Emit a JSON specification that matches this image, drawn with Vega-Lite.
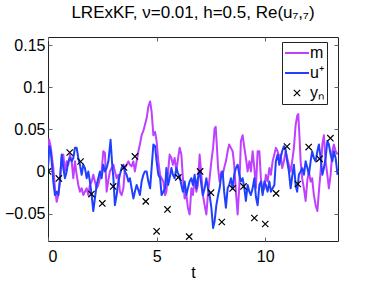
{
  "$schema": "https://vega.github.io/schema/vega-lite/v6.json",
  "width": 290,
  "height": 204,
  "autosize": "none",
  "padding": {"left": 48, "top": 37, "right": 36, "bottom": 40},
  "background": "white",
  "title": {"text": "LRExKF, ν=0.01, h=0.5, Re(u₇,₇)", "font": "Liberation Sans", "fontSize": 17, "fontWeight": "normal", "color": "#000", "anchor": "middle", "offset": 15},
  "config": {
    "view": {"stroke": "#222", "strokeWidth": 1},
    "axis": {"labelFont": "Liberation Sans", "labelFontSize": 16, "labelColor": "#000", "titleFont": "Liberation Sans", "titleFontSize": 16, "titleFontWeight": "normal", "titleColor": "#000", "domain": false, "grid": false, "tickColor": "#666", "tickWidth": 1, "tickSize": -4},
    "legend": {"orient": "none", "legendX": 234, "legendY": 5, "title": null, "strokeColor": "#222", "fillColor": "white", "padding": 3, "symbolSize": 400, "rowPadding": 4, "symbolOffset": 4, "labelOffset": 5, "labelFont": "Liberation Sans", "labelFontSize": 16, "labelColor": "#000", "symbolStrokeWidth": 2, "cornerRadius": 0}
  },
  "data": {"values": [
    {"t":0,"v":0.005,"s":"m"},{"t":0.05,"v":0.038,"s":"m"},{"t":0.12,"v":0.03,"s":"m"},{"t":0.245,"v":0.004,"s":"m"},{"t":0.32,"v":-0.02,"s":"m"},{"t":0.4,"v":-0.036,"s":"m"},{"t":0.475,"v":-0.028,"s":"m"},{"t":0.55,"v":-0.008,"s":"m"},{"t":0.63,"v":0.016,"s":"m"},{"t":0.705,"v":0.02,"s":"m"},{"t":0.78,"v":0.0,"s":"m"},{"t":0.86,"v":0.012,"s":"m"},{"t":0.935,"v":0.008,"s":"m"},{"t":1.01,"v":0.02,"s":"m"},{"t":1.09,"v":0.012,"s":"m"},{"t":1.165,"v":-0.008,"s":"m"},{"t":1.24,"v":0.012,"s":"m"},{"t":1.32,"v":-0.004,"s":"m"},{"t":1.395,"v":-0.016,"s":"m"},{"t":1.47,"v":-0.024,"s":"m"},{"t":1.55,"v":-0.02,"s":"m"},{"t":1.625,"v":-0.028,"s":"m"},{"t":1.7,"v":-0.024,"s":"m"},{"t":1.78,"v":-0.02,"s":"m"},{"t":1.855,"v":-0.028,"s":"m"},{"t":1.93,"v":-0.016,"s":"m"},{"t":2.01,"v":-0.012,"s":"m"},{"t":2.085,"v":-0.004,"s":"m"},{"t":2.16,"v":-0.012,"s":"m"},{"t":2.24,"v":-0.02,"s":"m"},{"t":2.315,"v":-0.016,"s":"m"},{"t":2.39,"v":-0.008,"s":"m"},{"t":2.47,"v":0.0,"s":"m"},{"t":2.545,"v":0.024,"s":"m"},{"t":2.62,"v":0.022,"s":"m"},{"t":2.7,"v":-0.024,"s":"m"},{"t":2.78,"v":-0.01,"s":"m"},{"t":2.85,"v":0.0,"s":"m"},{"t":2.93,"v":0.004,"s":"m"},{"t":3.01,"v":0.008,"s":"m"},{"t":3.08,"v":0.0,"s":"m"},{"t":3.16,"v":-0.008,"s":"m"},{"t":3.24,"v":-0.004,"s":"m"},{"t":3.31,"v":-0.024,"s":"m"},{"t":3.39,"v":-0.028,"s":"m"},{"t":3.47,"v":-0.02,"s":"m"},{"t":3.54,"v":0.004,"s":"m"},{"t":3.62,"v":0.008,"s":"m"},{"t":3.7,"v":0.012,"s":"m"},{"t":3.77,"v":0.008,"s":"m"},{"t":3.85,"v":0.006,"s":"m"},{"t":3.93,"v":0.012,"s":"m"},{"t":4.0,"v":0.0,"s":"m"},{"t":4.08,"v":0.012,"s":"m"},{"t":4.16,"v":0.024,"s":"m"},{"t":4.23,"v":0.032,"s":"m"},{"t":4.31,"v":0.043,"s":"m"},{"t":4.39,"v":0.048,"s":"m"},{"t":4.46,"v":0.055,"s":"m"},{"t":4.54,"v":0.063,"s":"m"},{"t":4.62,"v":0.077,"s":"m"},{"t":4.7,"v":0.083,"s":"m"},{"t":4.77,"v":0.071,"s":"m"},{"t":4.85,"v":0.043,"s":"m"},{"t":4.93,"v":0.047,"s":"m"},{"t":5.0,"v":0.036,"s":"m"},{"t":5.08,"v":0.012,"s":"m"},{"t":5.16,"v":-0.004,"s":"m"},{"t":5.23,"v":-0.008,"s":"m"},{"t":5.31,"v":-0.012,"s":"m"},{"t":5.39,"v":-0.028,"s":"m"},{"t":5.45,"v":-0.024,"s":"m"},{"t":5.53,"v":0.0,"s":"m"},{"t":5.6,"v":0.02,"s":"m"},{"t":5.68,"v":0.016,"s":"m"},{"t":5.75,"v":0.008,"s":"m"},{"t":5.83,"v":0.016,"s":"m"},{"t":5.91,"v":0.0,"s":"m"},{"t":5.98,"v":0.014,"s":"m"},{"t":6.06,"v":0.028,"s":"m"},{"t":6.14,"v":0.02,"s":"m"},{"t":6.21,"v":-0.008,"s":"m"},{"t":6.29,"v":-0.032,"s":"m"},{"t":6.37,"v":-0.028,"s":"m"},{"t":6.44,"v":-0.043,"s":"m"},{"t":6.52,"v":-0.051,"s":"m"},{"t":6.6,"v":-0.02,"s":"m"},{"t":6.67,"v":-0.028,"s":"m"},{"t":6.75,"v":-0.008,"s":"m"},{"t":6.83,"v":-0.024,"s":"m"},{"t":6.9,"v":-0.016,"s":"m"},{"t":6.98,"v":0.02,"s":"m"},{"t":7.06,"v":-0.004,"s":"m"},{"t":7.13,"v":-0.028,"s":"m"},{"t":7.21,"v":-0.04,"s":"m"},{"t":7.29,"v":-0.051,"s":"m"},{"t":7.36,"v":-0.028,"s":"m"},{"t":7.44,"v":-0.008,"s":"m"},{"t":7.52,"v":0.012,"s":"m"},{"t":7.6,"v":0.028,"s":"m"},{"t":7.67,"v":0.051,"s":"m"},{"t":7.72,"v":0.053,"s":"m"},{"t":7.77,"v":0.032,"s":"m"},{"t":7.83,"v":0.004,"s":"m"},{"t":7.9,"v":-0.012,"s":"m"},{"t":7.98,"v":0.0,"s":"m"},{"t":8.04,"v":-0.004,"s":"m"},{"t":8.11,"v":0.004,"s":"m"},{"t":8.19,"v":0.012,"s":"m"},{"t":8.27,"v":0.024,"s":"m"},{"t":8.34,"v":0.032,"s":"m"},{"t":8.42,"v":0.028,"s":"m"},{"t":8.5,"v":0.024,"s":"m"},{"t":8.57,"v":0.008,"s":"m"},{"t":8.65,"v":-0.024,"s":"m"},{"t":8.73,"v":-0.051,"s":"m"},{"t":8.81,"v":-0.016,"s":"m"},{"t":8.88,"v":0.036,"s":"m"},{"t":8.96,"v":0.043,"s":"m"},{"t":9.04,"v":0.028,"s":"m"},{"t":9.11,"v":0.016,"s":"m"},{"t":9.19,"v":0.0,"s":"m"},{"t":9.27,"v":0.012,"s":"m"},{"t":9.34,"v":0.0,"s":"m"},{"t":9.42,"v":0.024,"s":"m"},{"t":9.5,"v":0.004,"s":"m"},{"t":9.57,"v":-0.02,"s":"m"},{"t":9.65,"v":0.024,"s":"m"},{"t":9.73,"v":0.024,"s":"m"},{"t":9.8,"v":-0.008,"s":"m"},{"t":9.88,"v":-0.024,"s":"m"},{"t":9.96,"v":-0.02,"s":"m"},{"t":10.03,"v":-0.004,"s":"m"},{"t":10.11,"v":-0.012,"s":"m"},{"t":10.19,"v":0.004,"s":"m"},{"t":10.26,"v":-0.004,"s":"m"},{"t":10.34,"v":0.012,"s":"m"},{"t":10.42,"v":0.02,"s":"m"},{"t":10.49,"v":0.028,"s":"m"},{"t":10.57,"v":0.024,"s":"m"},{"t":10.65,"v":0.016,"s":"m"},{"t":10.71,"v":0.02,"s":"m"},{"t":10.78,"v":0.004,"s":"m"},{"t":10.86,"v":0.012,"s":"m"},{"t":10.94,"v":0.024,"s":"m"},{"t":11.01,"v":0.016,"s":"m"},{"t":11.09,"v":0.008,"s":"m"},{"t":11.17,"v":0.0,"s":"m"},{"t":11.24,"v":0.012,"s":"m"},{"t":11.32,"v":0.028,"s":"m"},{"t":11.4,"v":0.055,"s":"m"},{"t":11.47,"v":0.066,"s":"m"},{"t":11.52,"v":0.068,"s":"m"},{"t":11.58,"v":0.04,"s":"m"},{"t":11.63,"v":0.012,"s":"m"},{"t":11.7,"v":-0.008,"s":"m"},{"t":11.78,"v":-0.02,"s":"m"},{"t":11.86,"v":-0.035,"s":"m"},{"t":11.94,"v":-0.01,"s":"m"},{"t":12.01,"v":0.0,"s":"m"},{"t":12.09,"v":-0.012,"s":"m"},{"t":12.16,"v":-0.008,"s":"m"},{"t":12.24,"v":-0.028,"s":"m"},{"t":12.32,"v":-0.04,"s":"m"},{"t":12.4,"v":-0.047,"s":"m"},{"t":12.47,"v":-0.024,"s":"m"},{"t":12.55,"v":0.0,"s":"m"},{"t":12.63,"v":0.032,"s":"m"},{"t":12.7,"v":0.043,"s":"m"},{"t":12.78,"v":0.012,"s":"m"},{"t":12.86,"v":-0.004,"s":"m"},{"t":12.93,"v":-0.02,"s":"m"},{"t":13.01,"v":-0.004,"s":"m"},{"t":13.09,"v":0.024,"s":"m"},{"t":13.16,"v":0.032,"s":"m"},{"t":13.24,"v":0.024,"s":"m"},{"t":13.33,"v":0.02,"s":"m"},
    {"t":0,"v":0.005,"s":"u⁺"},{"t":0.06,"v":0.03,"s":"u⁺"},{"t":0.12,"v":0.025,"s":"u⁺"},{"t":0.17,"v":0.012,"s":"u⁺"},{"t":0.245,"v":-0.012,"s":"u⁺"},{"t":0.32,"v":-0.028,"s":"u⁺"},{"t":0.4,"v":-0.024,"s":"u⁺"},{"t":0.475,"v":-0.028,"s":"u⁺"},{"t":0.55,"v":-0.012,"s":"u⁺"},{"t":0.63,"v":0.02,"s":"u⁺"},{"t":0.705,"v":0.004,"s":"u⁺"},{"t":0.78,"v":-0.008,"s":"u⁺"},{"t":0.86,"v":0.0,"s":"u⁺"},{"t":0.935,"v":0.012,"s":"u⁺"},{"t":1.01,"v":0.016,"s":"u⁺"},{"t":1.09,"v":0.012,"s":"u⁺"},{"t":1.165,"v":0.016,"s":"u⁺"},{"t":1.24,"v":0.028,"s":"u⁺"},{"t":1.32,"v":0.028,"s":"u⁺"},{"t":1.395,"v":0.016,"s":"u⁺"},{"t":1.47,"v":0.008,"s":"u⁺"},{"t":1.55,"v":-0.004,"s":"u⁺"},{"t":1.625,"v":0.008,"s":"u⁺"},{"t":1.7,"v":0.004,"s":"u⁺"},{"t":1.78,"v":-0.008,"s":"u⁺"},{"t":1.855,"v":0.0,"s":"u⁺"},{"t":1.93,"v":-0.012,"s":"u⁺"},{"t":2.01,"v":-0.028,"s":"u⁺"},{"t":2.085,"v":-0.047,"s":"u⁺"},{"t":2.16,"v":-0.032,"s":"u⁺"},{"t":2.24,"v":-0.016,"s":"u⁺"},{"t":2.315,"v":-0.008,"s":"u⁺"},{"t":2.39,"v":0.0,"s":"u⁺"},{"t":2.47,"v":-0.008,"s":"u⁺"},{"t":2.545,"v":0.008,"s":"u⁺"},{"t":2.62,"v":0.0,"s":"u⁺"},{"t":2.7,"v":0.004,"s":"u⁺"},{"t":2.78,"v":0.012,"s":"u⁺"},{"t":2.88,"v":0.0375,"s":"u⁺"},{"t":2.95,"v":0.01,"s":"u⁺"},{"t":3.01,"v":-0.008,"s":"u⁺"},{"t":3.08,"v":-0.04,"s":"u⁺"},{"t":3.16,"v":-0.028,"s":"u⁺"},{"t":3.24,"v":-0.012,"s":"u⁺"},{"t":3.31,"v":-0.004,"s":"u⁺"},{"t":3.39,"v":0.004,"s":"u⁺"},{"t":3.47,"v":0.008,"s":"u⁺"},{"t":3.54,"v":0.0,"s":"u⁺"},{"t":3.62,"v":-0.004,"s":"u⁺"},{"t":3.7,"v":-0.012,"s":"u⁺"},{"t":3.77,"v":-0.008,"s":"u⁺"},{"t":3.85,"v":-0.02,"s":"u⁺"},{"t":3.93,"v":-0.032,"s":"u⁺"},{"t":4.0,"v":-0.024,"s":"u⁺"},{"t":4.08,"v":-0.016,"s":"u⁺"},{"t":4.16,"v":-0.022,"s":"u⁺"},{"t":4.23,"v":-0.028,"s":"u⁺"},{"t":4.31,"v":-0.012,"s":"u⁺"},{"t":4.39,"v":-0.004,"s":"u⁺"},{"t":4.46,"v":0.0,"s":"u⁺"},{"t":4.54,"v":0.0,"s":"u⁺"},{"t":4.62,"v":-0.012,"s":"u⁺"},{"t":4.7,"v":-0.02,"s":"u⁺"},{"t":4.77,"v":0.004,"s":"u⁺"},{"t":4.85,"v":0.032,"s":"u⁺"},{"t":4.93,"v":0.03,"s":"u⁺"},{"t":5.0,"v":0.012,"s":"u⁺"},{"t":5.08,"v":-0.004,"s":"u⁺"},{"t":5.16,"v":-0.008,"s":"u⁺"},{"t":5.23,"v":-0.028,"s":"u⁺"},{"t":5.31,"v":-0.024,"s":"u⁺"},{"t":5.39,"v":-0.02,"s":"u⁺"},{"t":5.45,"v":0.004,"s":"u⁺"},{"t":5.53,"v":-0.016,"s":"u⁺"},{"t":5.6,"v":-0.008,"s":"u⁺"},{"t":5.68,"v":0.004,"s":"u⁺"},{"t":5.75,"v":-0.004,"s":"u⁺"},{"t":5.83,"v":-0.008,"s":"u⁺"},{"t":5.91,"v":0.004,"s":"u⁺"},{"t":5.98,"v":-0.002,"s":"u⁺"},{"t":6.06,"v":-0.006,"s":"u⁺"},{"t":6.14,"v":-0.016,"s":"u⁺"},{"t":6.21,"v":-0.024,"s":"u⁺"},{"t":6.29,"v":-0.012,"s":"u⁺"},{"t":6.37,"v":-0.028,"s":"u⁺"},{"t":6.44,"v":-0.02,"s":"u⁺"},{"t":6.52,"v":-0.012,"s":"u⁺"},{"t":6.6,"v":-0.008,"s":"u⁺"},{"t":6.67,"v":-0.016,"s":"u⁺"},{"t":6.75,"v":-0.004,"s":"u⁺"},{"t":6.83,"v":-0.02,"s":"u⁺"},{"t":6.9,"v":-0.008,"s":"u⁺"},{"t":6.98,"v":0.0,"s":"u⁺"},{"t":7.06,"v":-0.016,"s":"u⁺"},{"t":7.13,"v":-0.028,"s":"u⁺"},{"t":7.21,"v":-0.02,"s":"u⁺"},{"t":7.29,"v":-0.008,"s":"u⁺"},{"t":7.36,"v":-0.02,"s":"u⁺"},{"t":7.44,"v":-0.028,"s":"u⁺"},{"t":7.52,"v":-0.043,"s":"u⁺"},{"t":7.6,"v":-0.067,"s":"u⁺"},{"t":7.67,"v":-0.059,"s":"u⁺"},{"t":7.75,"v":-0.04,"s":"u⁺"},{"t":7.83,"v":-0.028,"s":"u⁺"},{"t":7.9,"v":-0.02,"s":"u⁺"},{"t":7.98,"v":-0.004,"s":"u⁺"},{"t":8.04,"v":0.0,"s":"u⁺"},{"t":8.11,"v":-0.024,"s":"u⁺"},{"t":8.19,"v":-0.043,"s":"u⁺"},{"t":8.27,"v":-0.02,"s":"u⁺"},{"t":8.34,"v":-0.016,"s":"u⁺"},{"t":8.42,"v":-0.008,"s":"u⁺"},{"t":8.5,"v":-0.02,"s":"u⁺"},{"t":8.57,"v":-0.004,"s":"u⁺"},{"t":8.65,"v":0.004,"s":"u⁺"},{"t":8.73,"v":0.008,"s":"u⁺"},{"t":8.81,"v":-0.004,"s":"u⁺"},{"t":8.88,"v":-0.012,"s":"u⁺"},{"t":8.96,"v":-0.008,"s":"u⁺"},{"t":9.04,"v":-0.02,"s":"u⁺"},{"t":9.11,"v":-0.035,"s":"u⁺"},{"t":9.19,"v":-0.016,"s":"u⁺"},{"t":9.27,"v":-0.024,"s":"u⁺"},{"t":9.34,"v":-0.028,"s":"u⁺"},{"t":9.42,"v":-0.02,"s":"u⁺"},{"t":9.5,"v":-0.008,"s":"u⁺"},{"t":9.57,"v":-0.03,"s":"u⁺"},{"t":9.65,"v":-0.04,"s":"u⁺"},{"t":9.73,"v":-0.016,"s":"u⁺"},{"t":9.8,"v":-0.012,"s":"u⁺"},{"t":9.88,"v":-0.028,"s":"u⁺"},{"t":9.96,"v":-0.012,"s":"u⁺"},{"t":10.03,"v":-0.016,"s":"u⁺"},{"t":10.11,"v":-0.024,"s":"u⁺"},{"t":10.19,"v":-0.012,"s":"u⁺"},{"t":10.26,"v":-0.024,"s":"u⁺"},{"t":10.34,"v":-0.02,"s":"u⁺"},{"t":10.42,"v":-0.016,"s":"u⁺"},{"t":10.49,"v":0.012,"s":"u⁺"},{"t":10.57,"v":0.02,"s":"u⁺"},{"t":10.65,"v":0.008,"s":"u⁺"},{"t":10.71,"v":0.016,"s":"u⁺"},{"t":10.78,"v":0.024,"s":"u⁺"},{"t":10.86,"v":0.03,"s":"u⁺"},{"t":10.94,"v":0.026,"s":"u⁺"},{"t":11.01,"v":0.012,"s":"u⁺"},{"t":11.09,"v":0.0,"s":"u⁺"},{"t":11.17,"v":-0.02,"s":"u⁺"},{"t":11.24,"v":-0.006,"s":"u⁺"},{"t":11.32,"v":0.008,"s":"u⁺"},{"t":11.4,"v":-0.016,"s":"u⁺"},{"t":11.47,"v":-0.024,"s":"u⁺"},{"t":11.55,"v":-0.004,"s":"u⁺"},{"t":11.63,"v":0.0,"s":"u⁺"},{"t":11.7,"v":0.004,"s":"u⁺"},{"t":11.78,"v":-0.004,"s":"u⁺"},{"t":11.86,"v":0.012,"s":"u⁺"},{"t":11.94,"v":0.004,"s":"u⁺"},{"t":12.01,"v":-0.004,"s":"u⁺"},{"t":12.09,"v":0.012,"s":"u⁺"},{"t":12.16,"v":0.024,"s":"u⁺"},{"t":12.24,"v":0.016,"s":"u⁺"},{"t":12.32,"v":0.012,"s":"u⁺"},{"t":12.4,"v":0.024,"s":"u⁺"},{"t":12.47,"v":0.032,"s":"u⁺"},{"t":12.55,"v":0.016,"s":"u⁺"},{"t":12.63,"v":-0.004,"s":"u⁺"},{"t":12.7,"v":0.004,"s":"u⁺"},{"t":12.78,"v":0.016,"s":"u⁺"},{"t":12.86,"v":0.036,"s":"u⁺"},{"t":12.93,"v":0.032,"s":"u⁺"},{"t":13.01,"v":0.02,"s":"u⁺"},{"t":13.09,"v":0.012,"s":"u⁺"},{"t":13.16,"v":0.024,"s":"u⁺"},{"t":13.24,"v":0.016,"s":"u⁺"},{"t":13.33,"v":-0.004,"s":"u⁺"},
    {"t":0,"v":0.0,"s":"yₙ"},{"t":0.5,"v":-0.0083,"s":"yₙ"},{"t":1.0,"v":0.0225,"s":"yₙ"},{"t":1.5,"v":0.0118,"s":"yₙ"},{"t":2.0,"v":-0.0268,"s":"yₙ"},{"t":2.5,"v":-0.0379,"s":"yₙ"},{"t":3.0,"v":-0.0178,"s":"yₙ"},{"t":3.5,"v":0.0047,"s":"yₙ"},{"t":4.0,"v":0.0178,"s":"yₙ"},{"t":4.5,"v":-0.0355,"s":"yₙ"},{"t":5.0,"v":-0.071,"s":"yₙ"},{"t":5.5,"v":-0.045,"s":"yₙ"},{"t":6.0,"v":-0.0071,"s":"yₙ"},{"t":6.5,"v":-0.0773,"s":"yₙ"},{"t":7.0,"v":0.0,"s":"yₙ"},{"t":7.5,"v":-0.0252,"s":"yₙ"},{"t":8.0,"v":-0.06,"s":"yₙ"},{"t":8.5,"v":-0.0201,"s":"yₙ"},{"t":9.0,"v":-0.0178,"s":"yₙ"},{"t":9.5,"v":-0.0552,"s":"yₙ"},{"t":10.0,"v":-0.0623,"s":"yₙ"},{"t":10.5,"v":-0.026,"s":"yₙ"},{"t":11.0,"v":0.0296,"s":"yₙ"},{"t":11.5,"v":-0.0149,"s":"yₙ"},{"t":12.0,"v":0.0289,"s":"yₙ"},{"t":12.5,"v":0.015,"s":"yₙ"},{"t":13.0,"v":0.0395,"s":"yₙ"}
  ]},
  "resolve": {"axis": {"x": "independent", "y": "independent"}},
  "layer": [
    {
      "transform": [{"filter": "datum.s === 'm'"}],
      "mark": {"type": "line", "strokeWidth": 2, "clip": true, "strokeJoin": "round"},
      "encoding": {
        "x": {"field": "t", "type": "quantitative", "scale": {"domain": [0, 13.35], "nice": false, "zero": false}, "axis": {"orient": "bottom", "values": [0, 5, 10], "title": "t", "labelPadding": 11, "titlePadding": 0}},
        "y": {"field": "v", "type": "quantitative", "scale": {"domain": [-0.0825, 0.1595], "nice": false, "zero": false}, "axis": {"orient": "left", "values": [-0.05, 0, 0.05, 0.1, 0.15], "format": "~g", "title": null, "labelPadding": 7}},
        "color": {"field": "s", "type": "nominal", "scale": {"domain": ["m", "u⁺", "yₙ"], "range": ["#bf40ff", "#2040ff", "#000000"]},
          "legend": {"encode": {"symbols": {"update": {
            "shape": {"signal": "datum.value === 'yₙ' ? 'M-1,-1L1,1M-1,1L1,-1' : 'stroke'"},
            "size": {"signal": "datum.value === 'yₙ' ? 40 : 576"},
            "strokeWidth": {"signal": "datum.value === 'yₙ' ? 1.2 : 2"},
            "fill": {"value": "transparent"}
          }}}}}
      }
    },
    {
      "transform": [{"filter": "datum.s === 'u⁺'"}],
      "mark": {"type": "line", "strokeWidth": 2, "clip": true, "strokeJoin": "round"},
      "encoding": {
        "x": {"field": "t", "type": "quantitative", "axis": null},
        "y": {"field": "v", "type": "quantitative", "axis": null},
        "color": {"field": "s", "type": "nominal"}
      }
    },
    {
      "transform": [{"filter": "datum.s === 'yₙ'"}],
      "mark": {"type": "point", "shape": "M-1,-1L1,1M-1,1L1,-1", "size": 40, "strokeWidth": 1.2, "filled": false, "opacity": 1, "clip": true},
      "encoding": {
        "x": {"field": "t", "type": "quantitative", "axis": {"orient": "top", "values": [0, 5, 10], "labels": false, "title": null}},
        "y": {"field": "v", "type": "quantitative", "axis": {"orient": "right", "values": [-0.05, 0, 0.05, 0.1, 0.15], "labels": false, "title": null}},
        "color": {"field": "s", "type": "nominal"}
      }
    }
  ]
}
